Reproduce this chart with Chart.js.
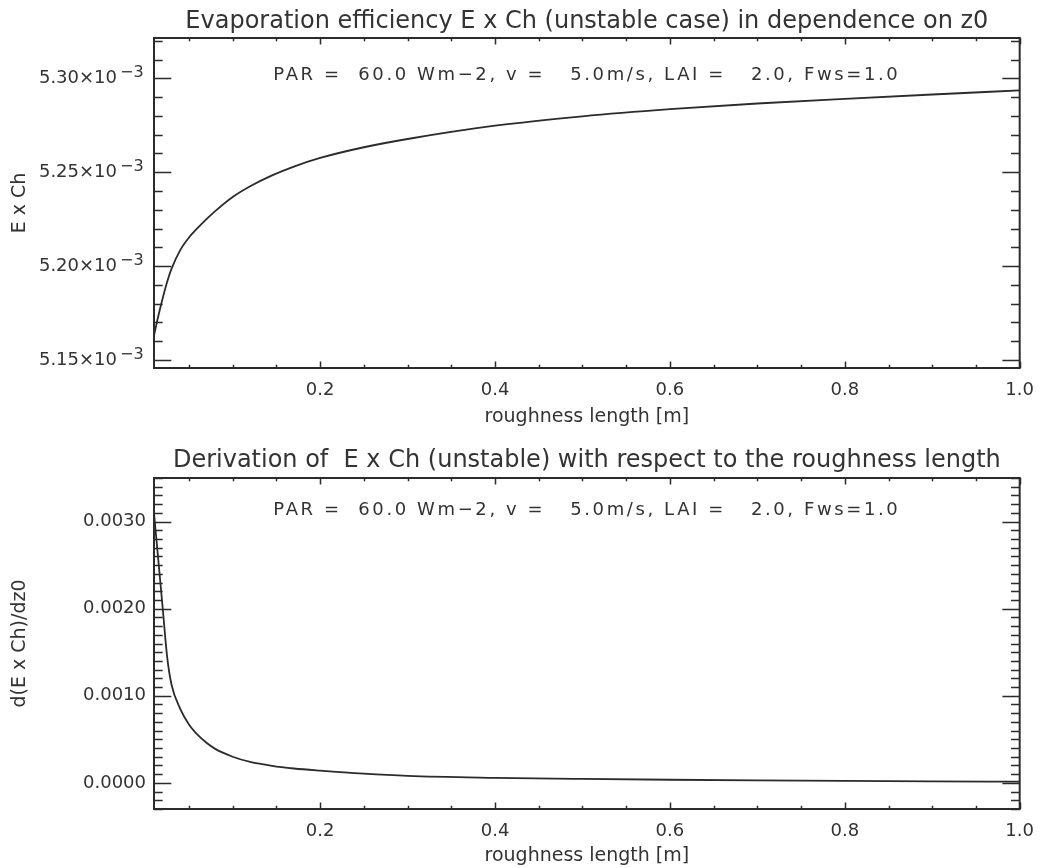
<!DOCTYPE html>
<html lang="en">
<head>
<meta charset="UTF-8">
<title>Evaporation efficiency E x Ch vs z0</title>
<script src="https://cdn.jsdelivr.net/npm/chart.js"></script>
<style>
  body { margin: 0; background: #fff; }
  .panel { position: absolute; left: 0; width: 1046px; height: 434px; }
  #topPanel { top: 0; }
  #bottomPanel { top: 434px; }
</style>
</head>
<body>
<div class="panel" id="topPanel"><canvas id="effChart"></canvas></div>
<div class="panel" id="bottomPanel"><canvas id="derivChart"></canvas></div>
<script>
// roughness length z0 [m]
const z0 = [0.010, 0.015, 0.020, 0.025, 0.030, 0.040, 0.050, 0.060, 0.070, 0.080,
            0.100, 0.120, 0.145, 0.170, 0.200, 0.250, 0.300, 0.400, 0.500, 0.600,
            0.700, 0.800, 0.900, 1.000];
// E x Ch (unstable case)
const effValues = [5.1630e-3, 5.1735e-3, 5.1830e-3, 5.1915e-3, 5.1985e-3, 5.2085e-3, 5.2152e-3, 5.2203e-3, 5.2250e-3, 5.2293e-3,
                   5.2368e-3, 5.2425e-3, 5.2483e-3, 5.2530e-3, 5.2576e-3, 5.2633e-3, 5.2677e-3, 5.2748e-3, 5.2798e-3, 5.2836e-3,
                   5.2866e-3, 5.2891e-3, 5.2914e-3, 5.2936e-3];
// d(E x Ch)/dz0
const derivValues = [0.00310, 0.00255, 0.00200, 0.00145, 0.00113, 0.00085, 0.00067, 0.00055, 0.00046, 0.00039,
                     0.00030, 0.00024, 0.000195, 0.000165, 0.000140, 0.000105, 0.000080, 0.000058, 0.000045, 0.000036,
                     0.000029, 0.000023, 0.000018, 0.000014];

const xTicks = [0.2, 0.4, 0.6, 0.8, 1.0];
const xTickLabels = ['0.2', '0.4', '0.6', '0.8', '1.0'];
const effTicks = [5.15e-3, 5.20e-3, 5.25e-3, 5.30e-3];
const effTickLabels = ['5.15×10', '5.20×10', '5.25×10', '5.30×10'];
const effExponent = '−3';
const derivTicks = [0, 0.001, 0.002, 0.003];
const derivTickLabels = ['0.0000', '0.0010', '0.0020', '0.0030'];

const ink = '#2b2b2b';
Chart.defaults.font.family = 'DejaVu Sans';
Chart.defaults.color = '#333';

// IDL style frame: box with inward ticks on all four sides, titles, note, exponents
const idlFrame = {
    id: 'idlFrame',
    afterDraw(chart, args, o) {
        const {ctx, chartArea: a, scales: {x, y}} = chart;
        const w = a.right - a.left, h = a.bottom - a.top;
        ctx.save();
        ctx.strokeStyle = ink;
        ctx.lineWidth = 2;
        ctx.strokeRect(a.left, a.top, w, h);
        ctx.lineWidth = 1.5;
        ctx.beginPath();
        // x ticks (bottom and top)
        for (let i = Math.ceil(x.min / o.xMinor - 1e-6); i * o.xMinor <= x.max + 1e-9; i++) {
            const v = i * o.xMinor;
            const major = Math.abs(v / o.xMajor - Math.round(v / o.xMajor)) < 1e-6;
            const len = (major ? 0.02 : 0.01) * h;
            const px = Math.round(x.getPixelForValue(v)) + 0.5;
            ctx.moveTo(px, a.bottom); ctx.lineTo(px, a.bottom - len);
            ctx.moveTo(px, a.top); ctx.lineTo(px, a.top + len);
        }
        // y ticks (left and right)
        for (let i = Math.ceil(y.min / o.yMinor - 1e-6); i * o.yMinor <= y.max + 1e-12; i++) {
            const v = i * o.yMinor;
            const major = Math.abs(v / o.yMajor - Math.round(v / o.yMajor)) < 1e-6;
            const len = (major ? 0.02 : 0.01) * w;
            const py = Math.round(y.getPixelForValue(v)) + 0.5;
            ctx.moveTo(a.left, py); ctx.lineTo(a.left + len, py);
            ctx.moveTo(a.right, py); ctx.lineTo(a.right - len, py);
        }
        ctx.stroke();

        const cx = (a.left + a.right) / 2;
        ctx.fillStyle = '#333';
        ctx.textAlign = 'center';
        ctx.textBaseline = 'alphabetic';
        ctx.font = '24px "DejaVu Sans"';
        ctx.fillText(o.title, cx, a.top - o.titleGap);
        ctx.font = '18px "DejaVu Sans"';
        ctx.letterSpacing = o.noteSpacing + 'px';
        ctx.fillText(o.note, cx, a.top + o.noteY);
        ctx.letterSpacing = '0px';

        if (o.exponent) {
            ctx.textAlign = 'left';
            ctx.font = '16px "DejaVu Sans"';
            y.ticks.forEach(t => {
                ctx.fillText(o.exponent, a.left - 34, y.getPixelForValue(t.value) - 1);
            });
        }
        ctx.restore();
    }
};

function makeChart(id, values, cfg) {
    return new Chart(document.getElementById(id), {
        type: 'line',
        data: {
            datasets: [{
                data: z0.map((v, i) => ({x: v, y: values[i]})),
                borderColor: ink,
                borderWidth: 1.8,
                pointRadius: 0,
                cubicInterpolationMode: 'monotone',
                fill: false
            }]
        },
        options: {
            responsive: true,
            maintainAspectRatio: false,
            animation: false,
            layout: {padding: {top: cfg.top, right: 17, bottom: 0, left: 0}},
            plugins: {
                legend: {display: false},
                tooltip: {enabled: false},
                idlFrame: cfg.frame
            },
            scales: {
                x: {
                    type: 'linear', min: 0.01, max: 1.0,
                    afterBuildTicks: s => { s.ticks = xTicks.map(v => ({value: v})); },
                    afterFit: s => { s.height = cfg.xHeight; },
                    grid: {display: false, drawTicks: false},
                    border: {display: false},
                    ticks: {
                        padding: 12, maxRotation: 0, autoSkip: false,
                        font: {size: 18},
                        callback: (v, i) => xTickLabels[i]
                    },
                    title: {
                        display: true, text: 'roughness length [m]',
                        font: {size: 19}, padding: {top: 0, bottom: cfg.xTitlePad}
                    }
                },
                y: {
                    type: 'linear', min: cfg.yMin, max: cfg.yMax,
                    afterBuildTicks: s => { s.ticks = cfg.yTicks.map(v => ({value: v})); },
                    afterFit: s => { s.width = 154; s.paddingTop = 0; s.paddingBottom = 0; },
                    grid: {display: false, drawTicks: false},
                    border: {display: false},
                    ticks: {
                        padding: cfg.yPad, autoSkip: false,
                        font: {size: 18},
                        callback: (v, i) => cfg.yLabels[i]
                    },
                    title: {
                        display: true, text: cfg.yTitle,
                        font: {size: 19}, padding: {top: 9, bottom: 0}
                    }
                }
            }
        },
        plugins: [idlFrame]
    });
}

const note = 'PAR =  60.0 Wm−2, v =   5.0m/s, LAI =   2.0, Fws=1.0';

makeChart('effChart', effValues, {
    top: 38, xHeight: 66, xTitlePad: 6,
    yMin: 5.1457e-3, yMax: 5.3215e-3,
    yTicks: effTicks, yLabels: effTickLabels, yPad: 37,
    yTitle: 'E x Ch',
    frame: {
        xMinor: 0.05, xMajor: 0.2, yMinor: 0.00001, yMajor: 0.00005,
        title: 'Evaporation efficiency E x Ch (unstable case) in dependence on z0',
        titleGap: 10, note: note, noteY: 42, noteSpacing: 2.6, exponent: effExponent
    }
});

makeChart('derivChart', derivValues, {
    top: 44, xHeight: 59, xTitlePad: 1,
    yMin: -0.0003, yMax: 0.0035,
    yTicks: derivTicks, yLabels: derivTickLabels, yPad: 8,
    yTitle: 'd(E x Ch)/dz0',
    frame: {
        xMinor: 0.05, xMajor: 0.2, yMinor: 0.0001, yMajor: 0.001,
        title: 'Derivation of  E x Ch (unstable) with respect to the roughness length',
        titleGap: 11, note: note, noteY: 37, noteSpacing: 2.6, exponent: null
    }
});
</script>
</body>
</html>
